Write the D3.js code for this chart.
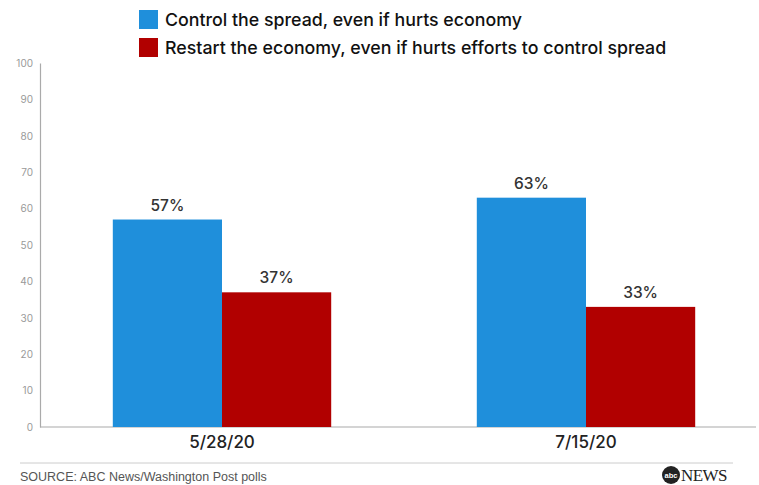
<!DOCTYPE html>
<html><head><meta charset="utf-8">
<script src="https://cdn.jsdelivr.net/npm/d3@7"></script>
<style>body{margin:0;background:#fff}svg{display:block}</style>
</head><body>
<svg id="c" width="759" height="485"></svg>
<script>
const categories = ["5/28/20", "7/15/20"];
const seriesNames = ["Control the spread, even if hurts economy", "Restart the economy, even if hurts efforts to control spread"];
const controlValues = [57, 63];
const restartValues = [37, 33];
const yTicks = [0, 10, 20, 30, 40, 50, 60, 70, 80, 90, 100];
const colors = ["#1f8fdb", "#b10000"];
const source = "SOURCE: ABC News/Washington Post polls";

const svg = d3.select("#c");
const font = "Inter, 'Liberation Sans', Arial, sans-serif";
const y = d3.scaleLinear().domain([0, 100]).range([427, 63]);
const x0 = d3.scaleBand().domain(categories).range([40, 768]).paddingInner(0.4).paddingOuter(0.2);
const x1 = d3.scaleBand().domain([0, 1]).range([0, x0.bandwidth()]);

// y axis
const ya = svg.append("g").attr("transform", "translate(40,0)")
  .call(d3.axisLeft(y).tickValues(yTicks).tickSize(0).tickPadding(7));
ya.select(".domain").attr("stroke", "#aaa").attr("stroke-width", 1.2);
ya.selectAll("text").attr("fill", "#999").attr("font-size", 10).attr("font-family", font);

// x axis line
svg.append("line").attr("x1", 40).attr("x2", 756).attr("y1", y(0)).attr("y2", y(0))
  .attr("stroke", "#aaa").attr("stroke-width", 1.2);

const data = categories.map((c, i) => ({c, vals: [controlValues[i], restartValues[i]]}));
const g = svg.selectAll(".grp").data(data).enter().append("g")
  .attr("transform", d => `translate(${x0(d.c)},0)`);
g.selectAll("rect").data(d => d.vals).enter().append("rect")
  .attr("x", (d, i) => x1(i)).attr("width", x1.bandwidth())
  .attr("y", d => y(d)).attr("height", d => y(0) - y(d))
  .attr("fill", (d, i) => colors[i]);
g.selectAll("text.v").data(d => d.vals).enter().append("text")
  .attr("x", (d, i) => x1(i) + x1.bandwidth() / 2).attr("y", d => y(d) - 9)
  .attr("text-anchor", "middle").attr("font-size", 15.5).attr("font-weight", 500).attr("fill", "#333")
  .attr("font-family", font).text(d => d + "%");

// category labels
svg.selectAll("text.cat").data(categories).enter().append("text")
  .attr("x", d => x0(d) + x0.bandwidth() / 2).attr("y", 448)
  .attr("text-anchor", "middle").attr("font-size", 17).attr("font-weight", 500).attr("fill", "#222")
  .attr("font-family", font).text(d => d);

// legend
seriesNames.forEach((s, i) => {
  svg.append("rect").attr("x", 139).attr("y", 10 + i * 28).attr("width", 19).attr("height", 19).attr("fill", colors[i]);
  svg.append("text").attr("x", 165).attr("y", 26 + i * 28).attr("font-size", 17.8).attr("font-weight", 500)
    .attr("fill", "#111").attr("font-family", font).text(s);
});

// separator and source
svg.append("line").attr("x1", 20).attr("x2", 733).attr("y1", 463).attr("y2", 463).attr("stroke", "#ccc");
svg.append("text").attr("x", 20).attr("y", 481).attr("font-size", 12.5).attr("fill", "#555")
  .attr("font-family", "'Liberation Sans Narrow', 'Liberation Sans', Arial, sans-serif")
  .text(source);

// logo
svg.append("circle").attr("cx", 671).attr("cy", 475).attr("r", 9).attr("fill", "#222");
svg.append("text").attr("x", 671).attr("y", 477.5).attr("text-anchor", "middle").attr("font-size", 7.5)
  .attr("fill", "#fff").attr("font-weight", "bold").attr("font-family", "'Liberation Sans', Arial, sans-serif").text("abc");
svg.append("text").attr("x", 681).attr("y", 481).attr("font-size", 17).attr("fill", "#222")
  .attr("font-family", "'Liberation Serif', 'DejaVu Serif', serif").attr("letter-spacing", -0.6).text("NEWS");
</script>
</body></html>
